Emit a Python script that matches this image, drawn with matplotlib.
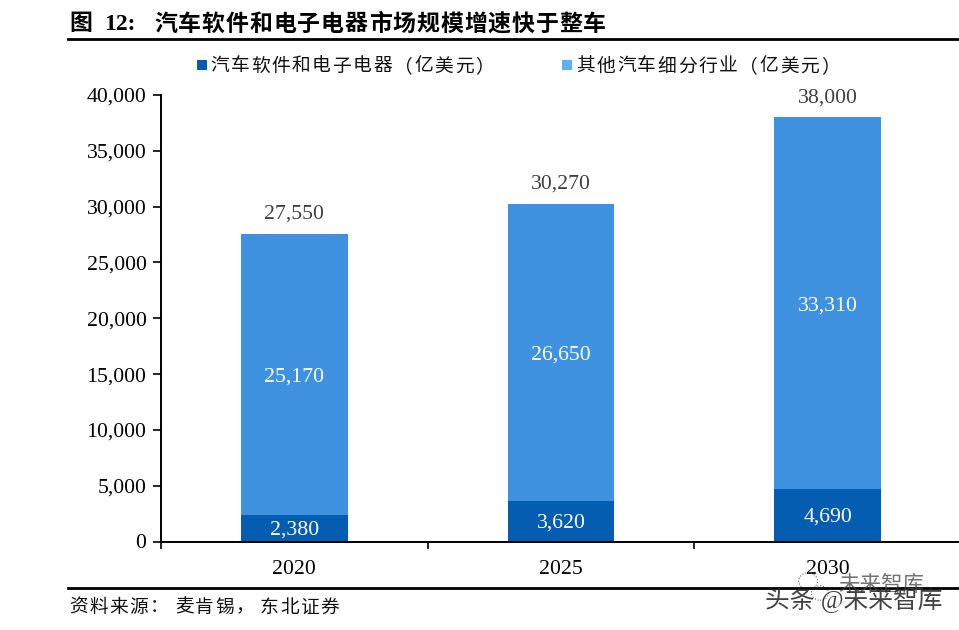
import matplotlib
matplotlib.use("Agg")
import matplotlib.pyplot as plt
from matplotlib.patches import Rectangle, Ellipse

plt.rcParams["font.family"] = ["Liberation Serif", "Noto Sans CJK SC"]

# data
YEARS = ["2020", "2025", "2030"]
AUTO_SOFTWARE = [2380, 3620, 4690]
OTHER_SEGMENTS = [25170, 26650, 33310]
TOTALS = [27550, 30270, 38000]
Y_TICKS = [0, 5000, 10000, 15000, 20000, 25000, 30000, 35000, 40000]

TITLE_NUM = "12:"
TITLE = "汽车软件和电子电器市场规模增速快于整车"
SOURCE_PARTS = ["资料来源：", "麦肯锡，", "东北证券"]
LEGEND_DARK = "汽车软件和电子电器（亿美元）"
LEGEND_LIGHT = "其他汽车细分行业（亿美元）"

DARK = "#045DB0"
LIGHT = "#3F92DF"
LEGEND_LIGHT_COLOR = "#5FB0F2"
W, H = 959, 630


def px_axes(left, top, right, bottom):
    return [left / W, 1 - bottom / H, (right - left) / W, (bottom - top) / H]


fig = plt.figure(figsize=(W / 100, H / 100), dpi=100, facecolor="white")
ax = fig.add_axes(px_axes(161, 95, 961, 541.5))

x = range(len(YEARS))
ax.bar(x, AUTO_SOFTWARE, width=0.4, color=DARK, zorder=2)
ax.bar(x, OTHER_SEGMENTS, width=0.4, bottom=AUTO_SOFTWARE, color=LIGHT, zorder=2)

for i in x:
    ax.annotate(f"{AUTO_SOFTWARE[i]:,}", (i, AUTO_SOFTWARE[i] / 2), xytext=(0, -1),
                textcoords="offset points", color="white", ha="center", va="center", fontsize=15.7)
    ax.annotate(f"{OTHER_SEGMENTS[i]:,}", (i, AUTO_SOFTWARE[i] + OTHER_SEGMENTS[i] / 2), xytext=(0, -2.2),
                textcoords="offset points", color="white", ha="center", va="center", fontsize=15.7)
    ax.annotate(f"{TOTALS[i]:,}", (i, TOTALS[i]), xytext=(0, 14.2), textcoords="offset points",
                color="#404040", ha="center", va="center", fontsize=15.7)

ax.set_xlim(-0.5, 2.5)
ax.set_ylim(0, 40000)
ax.set_yticks(Y_TICKS)
ax.set_yticklabels([f"{v:,}" for v in Y_TICKS], fontsize=15.7)
ax.set_xticks([-0.5, 0.5, 1.5, 2.5])
ax.set_xticklabels([])
ax.set_xticks(list(x), labels=YEARS, minor=True, fontsize=15.7)
ax.tick_params(axis="x", which="major", length=5, width=1.2, direction="out")
ax.tick_params(axis="x", which="minor", length=0, pad=13)
ax.tick_params(axis="y", length=5.5, width=1.2, direction="out", pad=5)
for side in ["top", "right"]:
    ax.spines[side].set_visible(False)
ax.spines["left"].set_linewidth(1.4)
ax.spines["bottom"].set_linewidth(1.4)
ax.spines["left"].set_zorder(3)
ax.spines["bottom"].set_zorder(3)


def px_text(px, py, s, **kw):
    fig.text(px / W, 1 - py / H, s, va="center", **kw)


def spaced(px, py, s, pitch, **kw):
    # the CJK text in the reference is letter-spaced, so place each glyph
    for n, ch in enumerate(s):
        px_text(px + n * pitch, py, ch, **kw)


def px_rule(y, lw):
    fig.add_artist(plt.Line2D([68 / W, 959 / W], [1 - y / H] * 2, color="black", lw=lw))


def px_box(left, top, size, color):
    fig.add_artist(Rectangle((left / W, 1 - (top + size) / H), size / W, size / H,
                             transform=fig.transFigure, color=color, lw=0))


# title and rules
px_text(69, 25, "图", fontsize=16.5, fontweight="bold", color="black")
px_text(104, 24, TITLE_NUM, fontsize=17, fontweight="bold", color="black")
spaced(154, 25, TITLE, 23.85, fontsize=16.5, fontweight="bold", color="black")
px_rule(39, 2)
px_rule(588, 2)

# source line
spaced(69, 608, SOURCE_PARTS[0], 20.2, fontsize=13.5, color="#111111")
spaced(175, 608, SOURCE_PARTS[1], 20.2, fontsize=13.5, color="#111111")
spaced(260, 608, SOURCE_PARTS[2], 20.2, fontsize=13.5, color="#111111")

# legend
px_box(197, 60, 10, DARK)
spaced(210, 67, LEGEND_DARK, 20.4, fontsize=13.5, color="#111111")
px_box(562, 60, 10, LEGEND_LIGHT_COLOR)
spaced(576, 67, LEGEND_LIGHT, 20.4, fontsize=13.5, color="#111111")

# watermarks
for cx, cy, d in [(808, 581, 19), (820, 593, 17)]:
    fig.add_artist(Ellipse((cx / W, 1 - cy / H), d / W, d * 0.85 / H, transform=fig.transFigure,
                           fill=False, ec="#666666", lw=0.8, ls=":"))
px_text(838, 586, "未来智库", fontsize=15.5, color="#444444", alpha=0.75)
px_text(765, 600, "头条 @未来智库", fontsize=17.8, color="#222222", alpha=0.85)

fig.savefig("out.png", dpi=100)
